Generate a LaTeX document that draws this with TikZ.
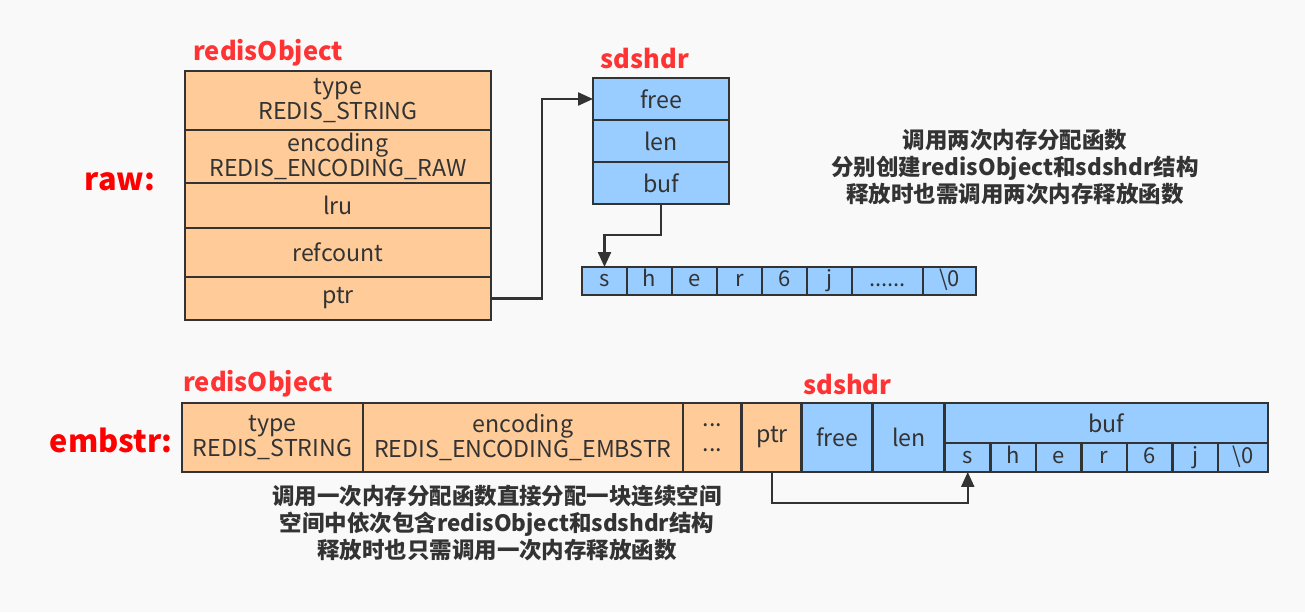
\documentclass[tikz,border=0pt]{standalone}
\usepackage{fontspec}
\setmainfont{Noto Sans CJK SC}
\usetikzlibrary{arrows.meta,positioning}
\definecolor{objfill}{HTML}{FFCC99}
\definecolor{sdsfill}{HTML}{99CCFF}
\definecolor{edge}{HTML}{333333}
\definecolor{tagred}{HTML}{FF3333}
\definecolor{bgcol}{HTML}{F9F9F9}

\begin{document}
\begin{tikzpicture}[
  x=0.02cm, y=-0.02cm,
  cell/.style={draw=edge, line width=1.6pt, align=center, inner sep=0pt, outer sep=0pt,
               text=edge, font=\fontsize{13.2}{14.5}\selectfont},
  obj/.style={cell, fill=objfill},
  robj/.style={obj, minimum width=6.12cm},
  sds/.style={cell, fill=sdsfill},
  rsds/.style={sds, minimum width=2.72cm, minimum height=0.84cm},
  chr/.style={sds, minimum height=0.56cm, minimum width=0.9cm, text height=9pt, text depth=2.5pt,
              font=\fontsize{12.5}{14}\selectfont},
  bchr/.style={chr, minimum height=0.58cm, minimum width=0.91cm},
  tag/.style={text=tagred, font=\bfseries\fontsize{14.5}{16}\selectfont, inner sep=0pt},
  kind/.style={text=red, font=\bfseries\fontsize{17.5}{20}\selectfont, inner sep=0pt},
  note/.style={align=center, text=edge, font=\bfseries\fontsize{12.8}{15.4}\selectfont, inner sep=0pt},
  arr/.style={-{Triangle[length=3mm,width=2.6mm]}, draw=edge, line width=1.3pt}
]
\fill[bgcol] (0,0) rectangle (1305,612);
\useasboundingbox (0,0) rectangle (1305,612);

\node[kind] (raw) at (120,182) {raw:};
\node[tag, anchor=west] (robjtag) at (193,53) {redisObject};
\node[robj, anchor=north west, minimum height=1.18cm] (type) at (185,71) {type\\REDIS\_STRING};
\node[robj, below=0pt of type, minimum height=1.06cm] (enc) {encoding\\REDIS\_ENCODING\_RAW};
\node[robj, below=0pt of enc, minimum height=0.9cm] (lru) {lru};
\node[robj, below=0pt of lru, minimum height=0.98cm] (ref) {refcount};
\node[robj, below=0pt of ref, minimum height=0.86cm] (ptr) {ptr};

\node[tag] (rsdstag) at (645,58) {sdshdr};
\node[rsds, anchor=north west] (free) at (593,78) {free};
\node[rsds, below=0pt of free] (len) {len};
\node[rsds, below=0pt of len] (buf) {buf};

\node[chr, anchor=north west] (c1) at (582,267) {s};
\foreach \c [count=\i from 2] in {h,e,r,6,j}{
  \pgfmathtruncatemacro{\p}{\i-1}
  \node[chr, right=0pt of c\p] (c\i) {\c};
}
\node[chr, right=0pt of c6, minimum width=1.42cm] (cdots) {......};
\node[chr, right=0pt of cdots, minimum width=1.06cm] (cnul) {\textbackslash 0};

\draw[arr] (ptr.east) -- ++(1.02cm,0) |- (free.west);
\draw[arr] (buf.south) -- ++(0,-0.62cm) -| (c1.north);

\node[note] (rawnote) at (1015,167) {调用两次内存分配函数\\分别创建redisObject和sdshdr结构\\释放时也需调用两次内存释放函数};

\node[kind] (emb) at (111,440) {embstr:};
\node[tag, anchor=west] (bobjtag) at (183,384) {redisObject};
\node[obj, anchor=north west, minimum width=3.62cm, minimum height=1.38cm] (btype) at (182,403) {type\\REDIS\_STRING};
\node[obj, right=0pt of btype, minimum width=6.4cm, minimum height=1.38cm] (benc) {encoding\\REDIS\_ENCODING\_EMBSTR};
\node[obj, right=0pt of benc, minimum width=1.18cm, minimum height=1.38cm] (bdots) {...\\...};
\node[obj, right=0pt of bdots, minimum width=1.2cm, minimum height=1.38cm] (bptr) {ptr};

\node[tag, anchor=west] (bsdstag) at (803,384) {sdshdr};
\node[sds, right=0pt of bptr, minimum width=1.42cm, minimum height=1.38cm] (bfree) {free};
\node[sds, right=0pt of bfree, minimum width=1.44cm, minimum height=1.38cm] (blen) {len};
\node[sds, anchor=north west, minimum width=6.46cm, minimum height=0.8cm] (bbuf) at (945,403) {buf};

\node[bchr, below=0pt of bbuf.south west, anchor=north west] (b1) {s};
\foreach \c [count=\i from 2] in {h,e,r,6,j}{
  \pgfmathtruncatemacro{\p}{\i-1}
  \node[bchr, right=0pt of b\p] (b\i) {\c};
}
\node[bchr, right=0pt of b6, minimum width=1.0cm] (bnul) {\textbackslash 0};

\draw[arr] (bptr.south) -- ++(0,-0.62cm) -| (b1.south);

\node[note] (embnote) at (497,523) {调用一次内存分配函数直接分配一块连续空间\\空间中依次包含redisObject和sdshdr结构\\释放时也只需调用一次内存释放函数};
\end{tikzpicture}
\end{document}
